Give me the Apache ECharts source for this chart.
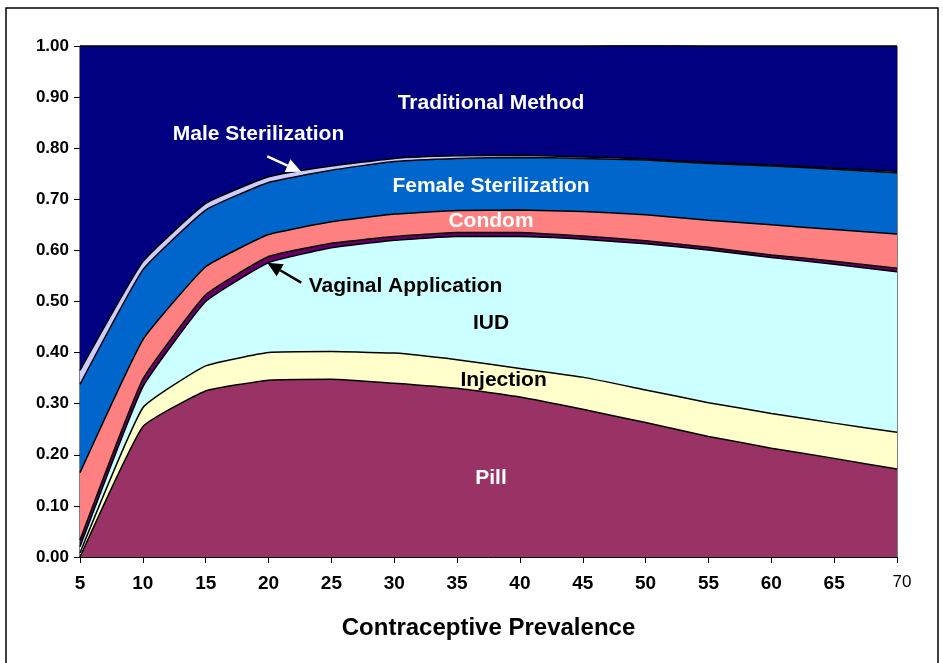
<!DOCTYPE html>
<html>
<head>
<meta charset="utf-8">
<script src="https://cdn.jsdelivr.net/npm/echarts@6/dist/echarts.min.js"></script>
<style>
  html, body { margin: 0; padding: 0; background: #fff; }
  #chart { width: 943px; height: 663px; }
</style>
</head>
<body>
<div id="chart"></div>
<script>
// 横轴：避孕普及率
const prevalence = ['5', '10', '15', '20', '25', '30', '35', '40', '45', '50', '55', '60', '65', '70'];

// 各方法占比（自下而上堆叠）
const pill        = [0.000, 0.255, 0.325, 0.346, 0.348, 0.340, 0.330, 0.313, 0.289, 0.263, 0.236, 0.213, 0.193, 0.172];
const injection   = [0.008, 0.037, 0.049, 0.054, 0.054, 0.059, 0.056, 0.056, 0.063, 0.064, 0.066, 0.068, 0.069, 0.072];
const iud         = [0.012, 0.041, 0.126, 0.176, 0.203, 0.221, 0.241, 0.258, 0.270, 0.286, 0.299, 0.305, 0.311, 0.314];
const vaginal     = [0.013, 0.015, 0.013, 0.012, 0.009, 0.007, 0.008, 0.008, 0.006, 0.006, 0.005, 0.005, 0.006, 0.007];
const condom      = [0.132, 0.077, 0.055, 0.043, 0.042, 0.044, 0.043, 0.044, 0.048, 0.051, 0.053, 0.059, 0.062, 0.067];
const femaleSter  = [0.173, 0.137, 0.111, 0.102, 0.101, 0.103, 0.102, 0.103, 0.104, 0.107, 0.111, 0.115, 0.118, 0.120];
const maleSter    = [0.027, 0.016, 0.013, 0.011, 0.008, 0.006, 0.005, 0.004, 0.003, 0.002, 0.002, 0.002, 0.002, 0.003];
const traditional = [0.635, 0.422, 0.308, 0.256, 0.235, 0.220, 0.215, 0.214, 0.217, 0.222, 0.228, 0.233, 0.239, 0.245];

const methods = [
    { name: 'Pill',                 data: pill,        color: '#993366' },
    { name: 'Injection',            data: injection,   color: '#FFFFCC' },
    { name: 'IUD',                  data: iud,         color: '#CCFFFF' },
    { name: 'Vaginal Application',  data: vaginal,     color: '#660066' },
    { name: 'Condom',               data: condom,      color: '#FF8080' },
    { name: 'Female Sterilization', data: femaleSter,  color: '#0066CC' },
    { name: 'Male Sterilization',   data: maleSter,    color: '#CCCCFF' },
    { name: 'Traditional Method',   data: traditional, color: '#000080' },
];

// 区域内的文字标注（[普及率, 比例]）
const labels = [
    { text: 'Traditional Method',   at: [37.7, 0.888], color: '#fff' },
    { text: 'Male Sterilization',   at: [19.2, 0.828], color: '#fff' },
    { text: 'Female Sterilization', at: [37.7, 0.726], color: '#fff' },
    { text: 'Condom',               at: [37.7, 0.658], color: '#fff' },
    { text: 'Vaginal Application',  at: [30.9, 0.530], color: '#000' },
    { text: 'IUD',                  at: [37.7, 0.458], color: '#000' },
    { text: 'Injection',            at: [38.7, 0.346], color: '#000' },
    { text: 'Pill',                 at: [37.7, 0.155], color: '#fff' },
];
// 箭头：起点 -> 终点
const arrows = [
    { from: [19.9, 0.784], to: [22.6, 0.754], color: '#fff' },
    { from: [22.6, 0.537], to: [19.9, 0.576], color: '#000' },
];

const FONT = 'Arial, "Liberation Sans", sans-serif';

const chart = echarts.init(document.getElementById('chart'), null, { renderer: 'canvas' });

const series = methods.map(m => ({
    name: m.name,
    type: 'line',
    stack: 'total',
    symbol: 'none',
    silent: true,
    smooth: 0.12,
    data: m.data,
    lineStyle: { color: '#000', width: 1.5 },
    areaStyle: { color: m.color, opacity: 1 },
    itemStyle: { color: m.color },
}));

chart.setOption({
    animation: false,
    grid: { left: 80, right: 46, top: 46, bottom: 106, show: true, borderColor: '#000', borderWidth: 1 },
    xAxis: {
        type: 'category',
        data: prevalence,
        boundaryGap: false,
        name: 'Contraceptive Prevalence',
        nameLocation: 'middle',
        nameGap: 59,
        nameTextStyle: { fontFamily: FONT, fontWeight: 'bold', fontSize: 24, color: '#000' },
        axisLine: { lineStyle: { color: '#000', width: 1 } },
        axisTick: { show: true, length: 6, interval: 0, lineStyle: { color: '#000' } },
        splitLine: { show: false },
        axisLabel: {
            interval: 0,
            margin: 17,
            fontFamily: FONT, fontSize: 19, color: '#000',
            formatter: v => v === '70' ? '{n|70}' : '{b|' + v + '}',
            rich: {
                b: { fontFamily: FONT, fontSize: 19, fontWeight: 'bold', color: '#000' },
                n: { fontFamily: FONT, fontSize: 17, fontWeight: 'normal', color: '#000', padding: [0, 0, 8, 10] },
            },
        },
    },
    yAxis: {
        type: 'value',
        min: 0, max: 1, interval: 0.1,
        axisLine: { show: true, lineStyle: { color: '#000', width: 1 } },
        axisTick: { show: true, length: 6, lineStyle: { color: '#000' } },
        splitLine: { show: false },
        axisLabel: {
            margin: 11,
            fontFamily: FONT, fontSize: 17, fontWeight: 'bold', color: '#000',
            formatter: v => v.toFixed(2),
        },
    },
    series: series,
});

// 用坐标换算放置标注和箭头（类目轴按数值线性插值）
const first = chart.convertToPixel({ xAxisIndex: 0 }, prevalence[0]);
const last = chart.convertToPixel({ xAxisIndex: 0 }, prevalence[prevalence.length - 1]);
const x0 = +prevalence[0], x1 = +prevalence[prevalence.length - 1];
const toPx = p => [
    first + (p[0] - x0) / (x1 - x0) * (last - first),
    chart.convertToPixel({ yAxisIndex: 0 }, p[1]),
];

const arrowGraphic = a => {
    const p1 = toPx(a.from);
    const p2 = toPx(a.to);
    const ang = Math.atan2(p2[1] - p1[1], p2[0] - p1[0]);
    const len = 15, half = 7;
    const bx = p2[0] - len * Math.cos(ang), by = p2[1] - len * Math.sin(ang);
    const nx = -Math.sin(ang) * half, ny = Math.cos(ang) * half;
    return [
        { type: 'line', shape: { x1: p1[0], y1: p1[1], x2: bx, y2: by },
          style: { stroke: a.color, lineWidth: 2.5 }, z: 100 },
        { type: 'polygon', shape: { points: [[p2[0], p2[1]], [bx + nx, by + ny], [bx - nx, by - ny]] },
          style: { fill: a.color }, z: 100 },
    ];
};

const graphics = [
    // 外框
    { type: 'rect', shape: { x: 6, y: 8, width: 932, height: 680 },
      style: { fill: null, stroke: '#000', lineWidth: 1.5 }, z: 100, silent: true },
];
labels.forEach(l => {
    const p = toPx(l.at);
    graphics.push({
        type: 'text', x: p[0], y: p[1], z: 100, silent: true,
        style: { text: l.text, fill: l.color, font: 'bold 21px ' + FONT, align: 'center', verticalAlign: 'middle' },
    });
});
arrows.forEach(a => graphics.push(...arrowGraphic(a)));

chart.setOption({ graphic: graphics });
</script>
</body>
</html>
